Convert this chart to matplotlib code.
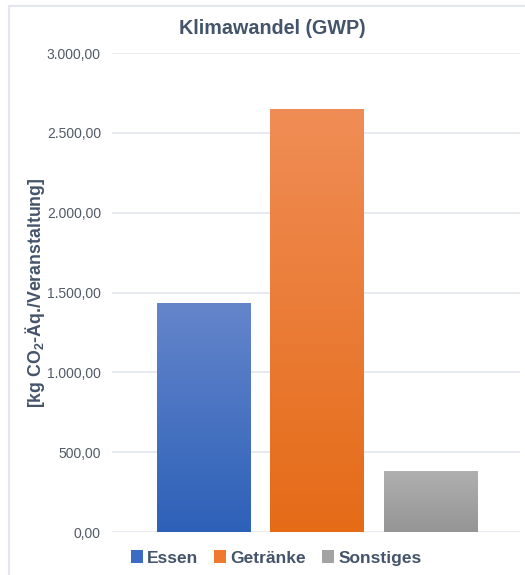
import matplotlib
matplotlib.use("Agg")
import matplotlib.pyplot as plt
from matplotlib.colors import LinearSegmentedColormap
from matplotlib.patches import Patch
from matplotlib.lines import Line2D
from matplotlib.ticker import FuncFormatter
import numpy as np

categories = ["Essen", "Getränke", "Sonstiges"]
values = [1435, 2650, 385]
top_colors = ["#6585cb", "#f08d56", "#b0b0b0"]
bottom_colors = ["#2d61b8", "#e56b17", "#959595"]
legend_colors = ["#3a6cc4", "#ef7a2f", "#a3a3a3"]

plt.rcParams["font.family"] = ["Liberation Sans", "DejaVu Sans"]
plt.rcParams["mathtext.fontset"] = "custom"
plt.rcParams["mathtext.rm"] = "Liberation Sans"
plt.rcParams["mathtext.bf"] = "Liberation Sans:bold"

text_color = "#44546a"
tick_color = "#525a66"
grid_color = "#e3e6ee"


def de_format(v, pos):
    s = f"{v:,.2f}"
    return s.replace(",", "X").replace(".", ",").replace("X", ".")


fig = plt.figure(figsize=(5.25, 5.75), dpi=100)
ax = fig.add_axes([112 / 525, 1 - 532 / 575, 408 / 525, 479 / 575])

x = np.arange(len(categories))
bars = ax.bar(x, values, width=0.82, color="none", zorder=2)

# vertical gradient fill for each bar
for bar, c_top, c_bot in zip(bars, top_colors, bottom_colors):
    cmap = LinearSegmentedColormap.from_list("g", [c_bot, c_top])
    grad = np.linspace(0, 1, 256).reshape(-1, 1)
    x0, y0 = bar.get_x(), bar.get_y()
    w, h = bar.get_width(), bar.get_height()
    im = ax.imshow(grad, cmap=cmap, origin="lower", aspect="auto",
                   extent=(x0, x0 + w, y0, y0 + h), zorder=2)
    im.set_clip_path(bar)

ax.set_xlim(-0.806, 2.79)
ax.set_ylim(0, 3000)
ax.set_yticks(np.arange(0, 3001, 500))
ax.yaxis.set_major_formatter(FuncFormatter(de_format))
ax.set_xticks([])
ax.grid(axis="y", color=grid_color, linewidth=1.2, zorder=0)
for s in ax.spines.values():
    s.set_visible(False)
ax.tick_params(axis="y", length=0, pad=8, labelsize=10, labelcolor=tick_color)

ax.set_ylabel(r"[kg CO$_\mathbf{2}$-Äq./Veranstaltung]", fontsize=12.8,
              fontweight="bold", color=text_color)
ax.yaxis.set_label_coords(-0.16, 0.5)

fig.text(272 / 525, 1 - 29 / 575, "Klimawandel (GWP)", ha="center", va="center",
         fontsize=14.2, fontweight="bold", color=text_color)

handles = [Patch(facecolor=c) for c in legend_colors]
leg = fig.legend(handles, categories, loc="center", bbox_to_anchor=(276 / 525, 1 - 558 / 575),
                 ncol=3, frameon=False, handlelength=0.7, handleheight=0.7,
                 handletextpad=0.25, columnspacing=0.9, prop={"weight": "bold", "size": 12.5})
for t in leg.get_texts():
    t.set_color(text_color)

# chart frame: top and left edges
fig.add_artist(Line2D([9 / 525, 9 / 525], [0, 1 - 6 / 575], transform=fig.transFigure,
                      color=grid_color, linewidth=1.5))
fig.add_artist(Line2D([9 / 525, 1], [1 - 6 / 575, 1 - 6 / 575], transform=fig.transFigure,
                      color=grid_color, linewidth=1.5))

fig.savefig("out.png", dpi=100)
